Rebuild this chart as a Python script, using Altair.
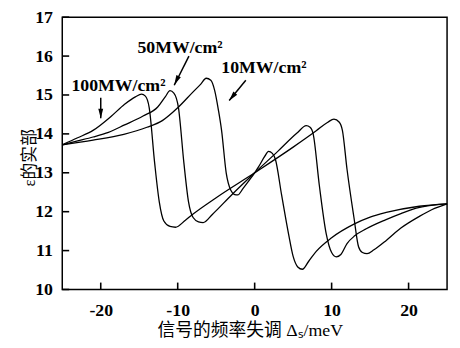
import altair as alt
import pandas as pd

# ---- data ----
x10 = [-25, -21, -17, -14, -12, -10, -8, -7, -6.3, -5.7, -5.2, -4.7, -4.3, -3.7, -3.1, -2.6, -2.2,
       -1.5, -0.5, 0, 0.5, 1.3, 1.8, 2.3, 2.7, 3.5, 4.4, 5.0, 5.6, 6.2, 7, 8, 10, 12.9, 15, 17.1, 21.4, 25]
y10 = [13.72, 13.84, 13.99, 14.17, 14.34, 14.67, 15.08, 15.28, 15.43, 15.38, 15.12, 14.6, 14.09, 13.0, 12.55, 12.44, 12.43,
       12.6, 12.86, 13.0, 13.15, 13.42, 13.55, 13.5, 13.34, 12.43, 11.43, 10.85, 10.58, 10.52, 10.72, 10.98, 11.33, 11.68, 11.86, 11.98, 12.14, 12.2]

x50 = [-25, -23, -21, -19, -16.9, -14.5, -12.6, -11.6, -11.0, -10.5, -9.9, -9.2, -8.6, -8.0, -7.3, -6.7,
       -5.5, -3, 0, 3, 5.5, 6.7, 7.2, 7.6, 8.4, 9.3, 10.0, 10.6, 11.2, 12.0, 13.0, 14.5, 17, 19, 21, 25]
y50 = [13.72, 13.82, 13.92, 14.04, 14.23, 14.46, 14.69, 14.96, 15.11, 15.05, 14.67, 13.26, 12.26, 11.85, 11.74, 11.72,
       11.93, 12.43, 13.0, 13.55, 14.02, 14.21, 14.17, 14.0, 12.68, 11.43, 10.95, 10.84, 10.9, 11.18, 11.38, 11.56, 11.79, 11.95, 12.09, 12.2]

x100 = [-25, -23, -21, -18.6, -16.9, -15.5, -14.7, -14.2, -13.7, -13.0, -12.4, -11.8, -11.0, -10.3,
        -9, -8, -5, 0, 5, 8, 9.5, 10.3, 11.0, 11.4, 12.0, 12.9, 13.5, 14.0, 14.6, 15.5, 17.1, 19, 21.4, 23, 25]
y100 = [13.72, 13.9, 14.09, 14.46, 14.76, 14.95, 15.02, 14.97, 14.67, 13.26, 12.26, 11.76, 11.62, 11.6,
        11.78, 11.94, 12.36, 13.0, 13.66, 14.08, 14.3, 14.38, 14.3, 14.09, 13.09, 11.85, 11.1, 10.95, 10.92, 11.02, 11.26, 11.58, 11.88, 12.05, 12.2]

label_text = ["100MW/cm²", "50MW/cm²", "10MW/cm²"]
label_x = [-17.7, -9.7, 1.2]
label_y = [15.24, 16.21, 15.68]

arrow_x = [-20.0, -8.54, -1.15]
arrow_y = [14.93, 16.0, 15.38]
arrow_x2 = [-20.0, -10.45, -3.31]
arrow_y2 = [14.40, 15.25, 14.86]
head_x = [-20.0, -10.17, -2.92]
head_y = [14.52, 15.37, 14.95]
head_angle = [180, 206.6, 219]

x_ticks = [-20, -10, 0, 10, 20]
y_ticks = [10, 11, 12, 13, 14, 15, 16, 17]

# ---- tables ----
rows = []
for name, xs, ys in [("10", x10, y10), ("50", x50, y50), ("100", x100, y100)]:
    for i, (a, b) in enumerate(zip(xs, ys)):
        rows.append({"series": name, "order": i, "x": a, "y": b})
curves = pd.DataFrame(rows)
labels = pd.DataFrame({"t": label_text, "x": label_x, "y": label_y})
arrows = pd.DataFrame({"x": arrow_x, "y": arrow_y, "x2": arrow_x2, "y2": arrow_y2})
heads = pd.DataFrame({"x": head_x, "y": head_y, "a": head_angle})
xt = pd.DataFrame({"v": x_ticks})
yt = pd.DataFrame({"v": y_ticks})

W, H = 390, 276
serif = "Liberation Serif"
mixed = "Liberation Serif, Noto Sans CJK SC"
xscale = alt.Scale(domain=[-25, 25], nice=False)
yscale = alt.Scale(domain=[10, 17], nice=False)

xaxis = alt.Axis(values=x_ticks, tickCount=5, ticks=False, domain=False, grid=False, labelOverlap=False,
                 labelExpr="'' + datum.value",
                 labelFont=serif, labelFontWeight="bold", labelFontSize=18, labelColor="black",
                 labelPadding=12,
                 title="信号的频率失调 Δₛ/meV", titleFont=mixed, titleFontSize=18,
                 titleFontWeight="normal", titleColor="black", titlePadding=3, titleX=190)
yaxis = alt.Axis(values=y_ticks, tickCount=8, ticks=False, domain=False, grid=False, labelOverlap=False,
                 labelExpr="'' + datum.value",
                 labelFont=serif, labelFontWeight="bold", labelFontSize=18, labelColor="black",
                 labelPadding=10,
                 title="ε的实部", titleFont=mixed, titleFontSize=17,
                 titleFontWeight="normal", titleColor="black",
                 titleAngle=270, titleBaseline="middle", titleAlign="center",
                 titleX=-33, titleY=142)


def X(field):
    return alt.X(field, scale=xscale, axis=xaxis)


def Y(field):
    return alt.Y(field, scale=yscale, axis=yaxis)


lines = alt.Chart(curves).mark_line(color="black", strokeWidth=1.3, interpolate="monotone").encode(
    x=X("x:Q"), y=Y("y:Q"), detail="series:N", order="order:Q")

xticks = alt.Chart(xt).mark_rule(color="black", strokeWidth=1.6).encode(
    x=X("v:Q"), y=alt.value(H), y2=alt.value(H - 7))
yticks = alt.Chart(yt).mark_rule(color="black", strokeWidth=1.6).encode(
    y=Y("v:Q"), x=alt.value(0), x2=alt.value(7))

text = alt.Chart(labels).mark_text(font=serif, fontWeight="bold", fontSize=18, color="black",
                                   baseline="middle", align="center").encode(
    x=X("x:Q"), y=Y("y:Q"), text="t:N")

shafts = alt.Chart(arrows).mark_rule(color="black", strokeWidth=1.5).encode(
    x=X("x:Q"), y=Y("y:Q"), x2="x2:Q", y2="y2:Q")

arrowheads = alt.Chart(heads).mark_point(shape="M0,-1L0.5,1L-0.5,1Z", filled=True, color="black",
                                         size=100, opacity=1).encode(
    x=X("x:Q"), y=Y("y:Q"), angle=alt.Angle("a:Q", scale=None))

chart = alt.layer(lines, xticks, yticks, shafts, arrowheads, text).properties(
    width=W, height=H,
    autosize=alt.AutoSizeParams(type="none"),
    padding={"left": 55, "top": 7, "right": 5, "bottom": 57},
    background="white",
).configure_view(stroke="black", strokeWidth=1.5)

chart.save("out.html", embed_options={"renderer": "svg", "actions": False})
